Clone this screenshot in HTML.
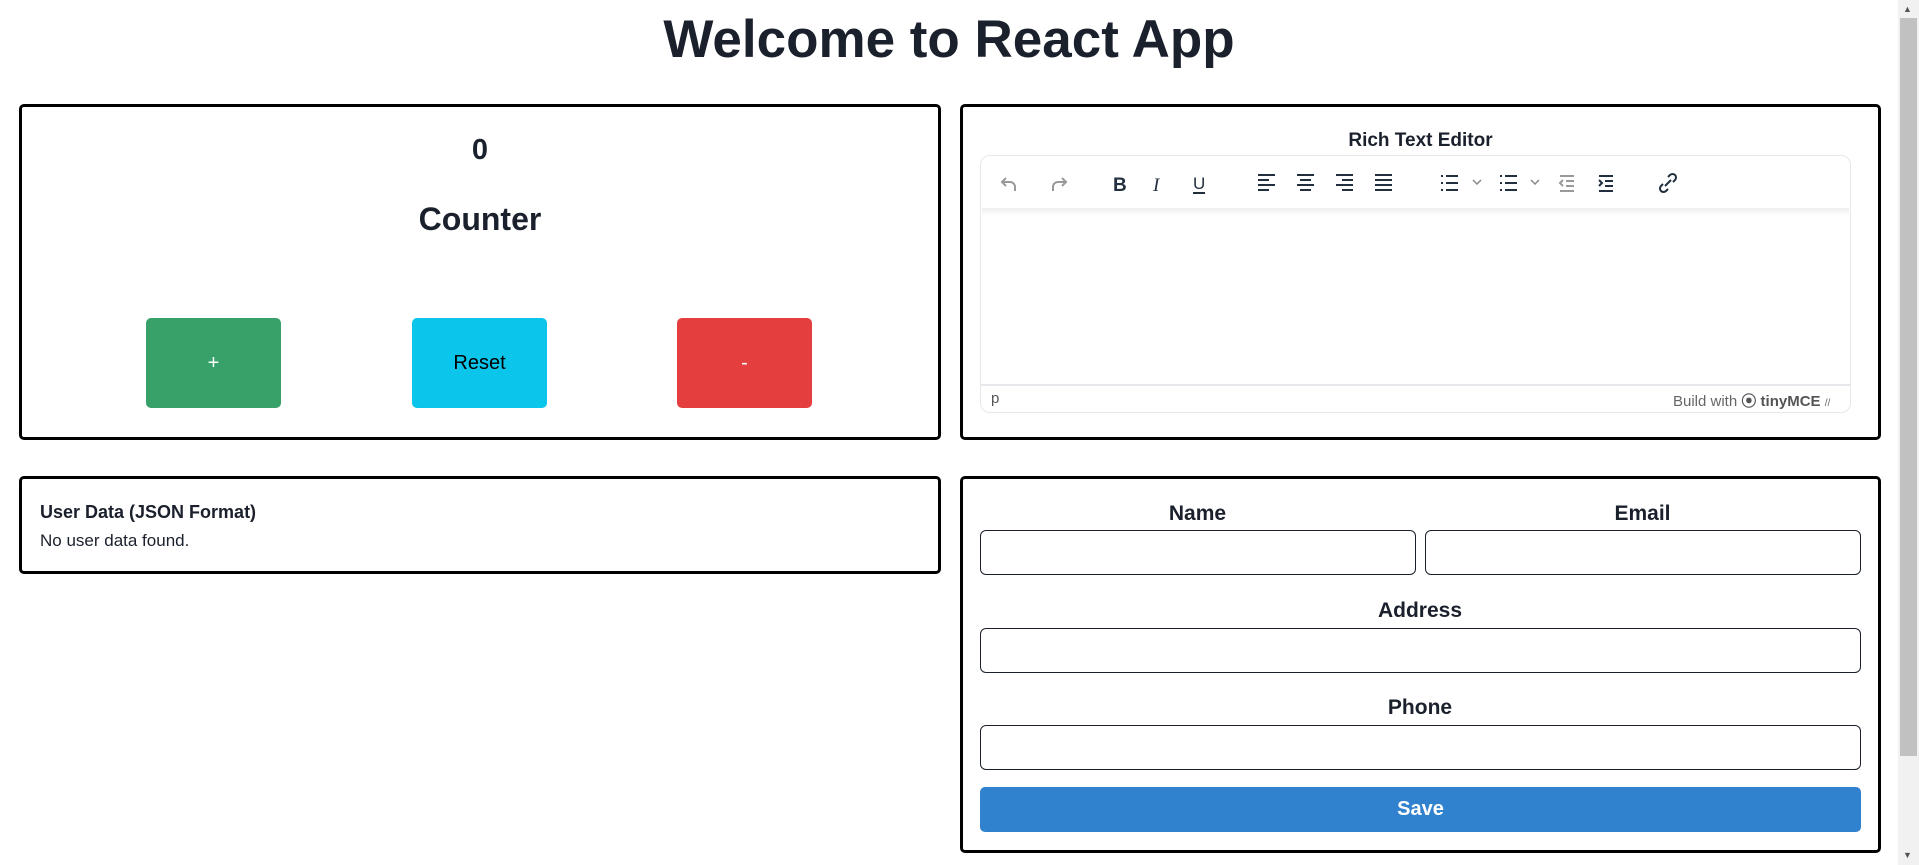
<!DOCTYPE html>
<html><head><meta charset="utf-8"><style>
*{box-sizing:border-box;margin:0;padding:0}
body{width:1919px;height:865px;overflow:hidden;background:#fff;font-family:"Liberation Sans",sans-serif;color:#1a202c;position:relative}
.a{position:absolute}
.box{position:absolute;border:3px solid #000;border-radius:5px}
.btn{position:absolute;border-radius:5px;display:flex;align-items:center;justify-content:center;font-size:20px}
.inp{position:absolute;border:1.5px solid #1a202c;border-radius:6px}
.lbl{position:absolute;font-weight:bold;font-size:21px;text-align:center}
</style></head><body>
<div class="a" style="left:0;width:1898px;top:10px;text-align:center;font-weight:bold;font-size:53px;line-height:60px">Welcome to React App</div>

<div class="box" style="left:19px;top:104px;width:922px;height:336px"></div>
<div class="a" style="left:19px;width:922px;top:134px;text-align:center;font-weight:bold;font-size:29px">0</div>
<div class="a" style="left:19px;width:922px;top:201px;text-align:center;font-weight:bold;font-size:32px">Counter</div>
<div class="btn" style="left:146px;top:318px;width:135px;height:90px;background:#38a169;color:#fff">+</div>
<div class="btn" style="left:412px;top:318px;width:135px;height:90px;background:#0bc5ea;color:#000">Reset</div>
<div class="btn" style="left:677px;top:318px;width:135px;height:90px;background:#e53e3e;color:#fff">-</div>

<div class="box" style="left:960px;top:104px;width:921px;height:336px"></div>
<div class="a" style="left:960px;width:921px;top:130px;text-align:center;font-weight:bold;font-size:19px">Rich Text Editor</div>
<div class="a" style="left:980px;top:155px;width:871px;height:258px;border:1.5px solid #e5e7eb;border-radius:10px"></div>
<div class="a" style="left:982px;top:208px;width:867px;height:8px;background:linear-gradient(#eee,#fff)"></div>
<div class="a" style="left:981px;top:384px;width:869px;height:1.5px;background:#e5e7eb"></div>
<div class="a" style="left:991px;top:390px;font-size:15px;color:#555">p</div>
<div class="a" style="left:1673px;top:390px;font-size:15px;color:#666">Build with <b style="color:#555">⦿ tinyMCE</b> <span style="font-size:10px">//</span></div>
<svg class="a" style="left:0;top:0" width="1919" height="865" fill="none" stroke="#222f3e" stroke-width="2">
<g stroke="#999"><path d="M1006 178l-4 4 4 4M1002 182h8a5 5 0 0 1 5 5v4"/><path d="M1062 178l4 4-4 4M1066 182h-8a5 5 0 0 0-5 5v4"/></g>
<text x="1113" y="191" fill="#222f3e" stroke="none" font-size="19" font-weight="bold" font-family="Liberation Sans">B</text>
<text x="1153" y="191" fill="#222f3e" stroke="none" font-size="19" font-style="italic" font-family="Liberation Serif">I</text>
<text x="1193" y="189" fill="#222f3e" stroke="none" font-size="17" font-family="Liberation Sans">U</text><path d="M1193 193h12"/>
<path d="M1258 175h17M1258 180h11M1258 185h17M1258 190h11"/>
<path d="M1297 175h17M1300 180h11M1297 185h17M1300 190h11"/>
<path d="M1336 175h17M1342 180h11M1336 185h17M1342 190h11"/>
<path d="M1375 175h17M1375 180h17M1375 185h17M1375 190h17"/>
<path d="M1441 176h2M1446 176h12M1441 183h2M1446 183h12M1441 190h2M1446 190h12"/>
<path d="M1473 180l4 4 4-4M1531 180l4 4 4-4" stroke="#888" stroke-width="1.5"/>
<path d="M1500 176h2M1505 176h12M1500 183h2M1505 183h12M1500 190h2M1505 190h12"/>
<path d="M1560 176h14M1566 181h8M1566 186h8M1560 191h14M1563 180l-3 3 3 3" stroke="#999"/>
<path d="M1599 176h14M1605 181h8M1605 186h8M1599 191h14M1599 180l3 3-3 3"/>
<path d="M1665 186l6-6M1663 184l-2 2a3 3 0 0 0 5 5l2-2M1673 182l2-2a3 3 0 0 0-5-5l-2 2"/>
</svg>

<div class="box" style="left:19px;top:476px;width:922px;height:98px"></div>
<div class="a" style="left:40px;top:502px;font-weight:bold;font-size:18px">User Data (JSON Format)</div>
<div class="a" style="left:40px;top:531px;font-size:17px">No user data found.</div>

<div class="box" style="left:960px;top:476px;width:921px;height:377px"></div>
<div class="lbl" style="left:980px;width:435px;top:502px">Name</div>
<div class="lbl" style="left:1425px;width:435px;top:502px">Email</div>
<div class="inp" style="left:980px;top:530px;width:436px;height:45px"></div>
<div class="inp" style="left:1425px;top:530px;width:436px;height:45px"></div>
<div class="lbl" style="left:980px;width:880px;top:599px">Address</div>
<div class="inp" style="left:980px;top:628px;width:881px;height:45px"></div>
<div class="lbl" style="left:980px;width:880px;top:696px">Phone</div>
<div class="inp" style="left:980px;top:725px;width:881px;height:45px"></div>
<div class="btn" style="left:980px;top:787px;width:881px;height:45px;background:#3182ce;color:#fff;font-weight:bold">Save</div>

<div class="a" style="left:1898px;top:0;width:21px;height:865px;background:#f1f1f1"></div>
<div class="a" style="left:1900px;top:18px;width:17px;height:738px;background:#c1c1c1"></div>
<div class="a" style="left:1903px;top:4px;font-size:9px;color:#555">▲</div>
<div class="a" style="left:1903px;top:850px;font-size:9px;color:#555">▼</div>
</body></html>
